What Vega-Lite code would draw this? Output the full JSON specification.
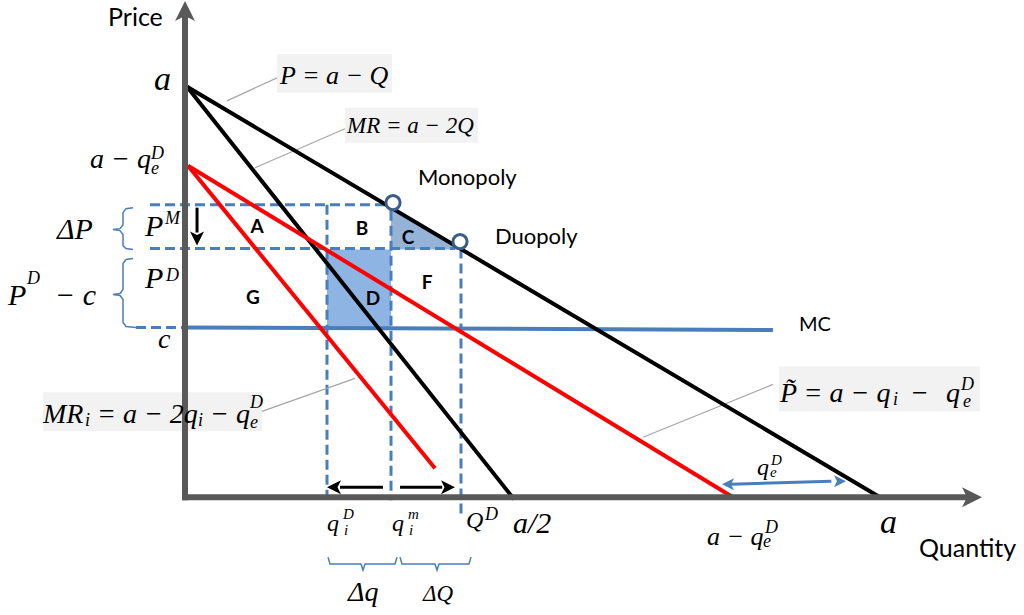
{
  "$schema": "https://vega.github.io/schema/vega-lite/v6.json",
  "width": 1024,
  "height": 615,
  "autosize": {"type": "fit", "contains": "padding"},
  "padding": 0,
  "background": "white",
  "config": {"view": {"stroke": null}},
  "datasets": {
    "segs": [
      {"g": "axis", "x": 0, "y": -0.73, "x2": 0, "y2": 118.0},
      {"g": "axis", "x": -0.43, "y": 0, "x2": 112.66, "y2": 0},
      {"g": "black", "x": 0.29, "y": 100, "x2": 100, "y2": 0},
      {"g": "black", "x": 0.29, "y": 100, "x2": 47.34, "y2": -0.49},
      {"g": "red", "x": 0.43, "y": 80.78, "x2": 78.85, "y2": 0},
      {"g": "red", "x": 0.43, "y": 80.78, "x2": 35.97, "y2": 7.06},
      {"g": "mc", "x": 0, "y": 41.36, "x2": 84.6, "y2": 40.75},
      {"g": "dash", "x": -7.05, "y": 41.36, "x2": 0, "y2": 41.36},
      {"g": "dash", "x": -5.04, "y": 71.29, "x2": 29.21, "y2": 71.29},
      {"g": "dash", "x": -5.04, "y": 60.58, "x2": 38.85, "y2": 60.58},
      {"g": "dash", "x": 20.43, "y": 71.29, "x2": 20.43, "y2": -0.73},
      {"g": "dash", "x": 29.64, "y": 69.83, "x2": 29.64, "y2": -0.73},
      {"g": "dash", "x": 39.71, "y": 60.58, "x2": 39.71, "y2": -5.11},
      {"g": "leader", "x": 6.04, "y": 96.59, "x2": 13.24, "y2": 102.19},
      {"g": "leader", "x": 10.07, "y": 80.29, "x2": 23.02, "y2": 89.78},
      {"g": "leader", "x": 11.08, "y": 20.92, "x2": 24.46, "y2": 28.95},
      {"g": "leader", "x": 65.9, "y": 14.6, "x2": 84.6, "y2": 27.49},
      {"g": "arrow", "x": 1.73, "y": 70.56, "x2": 1.73, "y2": 64.5},
      {"g": "arrow", "x": 28.49, "y": 2.43, "x2": 22.3, "y2": 2.43},
      {"g": "arrow", "x": 30.94, "y": 2.43, "x2": 37.0, "y2": 2.43},
      {"g": "barrow", "x": 78.5, "y": 3.16, "x2": 93.0, "y2": 3.89}
    ],
    "heads": [
      {"g": "axis", "dir": "up", "x": 0, "y": 118.49},
      {"g": "axis", "dir": "right", "x": 113.24, "y": 0},
      {"g": "arrow", "dir": "down", "x": 1.73, "y": 63.02},
      {"g": "arrow", "dir": "left", "x": 21.44, "y": 2.43},
      {"g": "arrow", "dir": "right", "x": 37.84, "y": 2.43},
      {"g": "barrow", "dir": "left", "x": 78.13, "y": 3.16},
      {"g": "barrow", "dir": "right", "x": 94.24, "y": 3.89}
    ],
    "boxes": [
      {"x": 13.24, "x2": 29.78, "y": 108.03, "y2": 98.54},
      {"x": 23.02, "x2": 42.16, "y": 94.89, "y2": 86.37},
      {"x": -20.43, "x2": 11.08, "y": 25.55, "y2": 16.06},
      {"x": 85.47, "x2": 114.39, "y": 31.87, "y2": 20.92}
    ],
    "braces": [
      {"id": "dp", "o": 1, "x": -7.48, "y": 70.56},
      {"id": "dp", "o": 2, "x": -8.49, "y": 70.32},
      {"id": "dp", "o": 3, "x": -8.92, "y": 69.34},
      {"id": "dp", "o": 4, "x": -8.92, "y": 66.42},
      {"id": "dp", "o": 5, "x": -9.35, "y": 65.45},
      {"id": "dp", "o": 6, "x": -10.36, "y": 65.21},
      {"id": "dp", "o": 7, "x": -9.35, "y": 64.96},
      {"id": "dp", "o": 8, "x": -8.92, "y": 63.99},
      {"id": "dp", "o": 9, "x": -8.92, "y": 61.31},
      {"id": "dp", "o": 10, "x": -8.49, "y": 60.58},
      {"id": "dp", "o": 11, "x": -7.48, "y": 60.34},
      {"id": "pc", "o": 1, "x": -7.48, "y": 58.15},
      {"id": "pc", "o": 2, "x": -8.49, "y": 57.91},
      {"id": "pc", "o": 3, "x": -8.92, "y": 56.93},
      {"id": "pc", "o": 4, "x": -8.92, "y": 50.61},
      {"id": "pc", "o": 5, "x": -9.35, "y": 49.64},
      {"id": "pc", "o": 6, "x": -10.36, "y": 49.39},
      {"id": "pc", "o": 7, "x": -9.35, "y": 49.15},
      {"id": "pc", "o": 8, "x": -8.92, "y": 48.18},
      {"id": "pc", "o": 9, "x": -8.92, "y": 42.58},
      {"id": "pc", "o": 10, "x": -8.49, "y": 41.61},
      {"id": "pc", "o": 11, "x": -7.05, "y": 41.36},
      {"id": "dq", "o": 1, "x": 20.58, "y": -14.6},
      {"id": "dq", "o": 2, "x": 20.86, "y": -16.3},
      {"id": "dq", "o": 3, "x": 25.32, "y": -16.3},
      {"id": "dq", "o": 4, "x": 25.61, "y": -17.76},
      {"id": "dq", "o": 5, "x": 25.9, "y": -16.3},
      {"id": "dq", "o": 6, "x": 30.22, "y": -16.3},
      {"id": "dq", "o": 7, "x": 30.5, "y": -14.6},
      {"id": "dQ", "o": 1, "x": 30.94, "y": -14.6},
      {"id": "dQ", "o": 2, "x": 31.22, "y": -16.3},
      {"id": "dQ", "o": 3, "x": 35.97, "y": -16.3},
      {"id": "dQ", "o": 4, "x": 36.26, "y": -17.76},
      {"id": "dQ", "o": 5, "x": 36.55, "y": -16.3},
      {"id": "dQ", "o": 6, "x": 40.86, "y": -16.3},
      {"id": "dQ", "o": 7, "x": 41.15, "y": -14.6}
    ],
    "shadeRect": [
      {"x": 20.43, "x2": 29.64, "y": 41.36, "y2": 60.34}
    ],
    "shadeTri": [
      {"x": 29.64, "y": 71.05, "y2": 60.34},
      {"x": 39.28, "y": 60.83, "y2": 60.34}
    ],
    "points": [
      {"name": "Monopoly", "x": 29.93, "y": 71.78},
      {"name": "Duopoly", "x": 39.57, "y": 62.29}
    ],
    "math": [
      {"x": -4.46, "y": 99.27, "t": "a", "k": "end"},
      {"x": 100, "y": -8.76, "t": "a", "k": "end"},
      {"x": -13.67, "y": 80.29, "t": "a − q", "k": "lab"},
      {"x": -4.9, "y": 82.48, "t": "D", "k": "sup"},
      {"x": -4.9, "y": 78.83, "t": "e", "k": "sup"},
      {"x": -18.42, "y": 63.02, "t": "ΔP", "k": "big"},
      {"x": -5.76, "y": 63.75, "t": "P", "k": "big"},
      {"x": -2.88, "y": 66.67, "t": "M", "k": "sup"},
      {"x": -5.76, "y": 51.09, "t": "P", "k": "big"},
      {"x": -2.73, "y": 52.8, "t": "D", "k": "sup"},
      {"x": -25.47, "y": 46.72, "t": "P", "k": "big"},
      {"x": -22.73, "y": 52.07, "t": "D", "k": "sup"},
      {"x": -18.71, "y": 46.72, "t": "− c", "k": "big"},
      {"x": -3.88, "y": 36.25, "t": "c", "k": "lab"},
      {"x": 20.43, "y": -8.27, "t": "q", "k": "qty"},
      {"x": 22.73, "y": -5.35, "t": "D", "k": "idx"},
      {"x": 22.88, "y": -9.25, "t": "i", "k": "idx"},
      {"x": 29.78, "y": -8.27, "t": "q", "k": "qty"},
      {"x": 32.09, "y": -5.35, "t": "m", "k": "idx"},
      {"x": 32.23, "y": -9.25, "t": "i", "k": "idx"},
      {"x": 40.43, "y": -7.54, "t": "Q", "k": "qty"},
      {"x": 43.17, "y": -5.6, "t": "D", "k": "sup"},
      {"x": 47.19, "y": -8.76, "t": "a/2", "k": "big"},
      {"x": 23.45, "y": -25.3, "t": "Δq", "k": "lab"},
      {"x": 34.24, "y": -25.3, "t": "ΔQ", "k": "eq2"},
      {"x": 75.11, "y": -11.68, "t": "a − q", "k": "eq"},
      {"x": 83.45, "y": -8.76, "t": "D", "k": "sup"},
      {"x": 83.17, "y": -12.17, "t": "e", "k": "sup"},
      {"x": 82.3, "y": 5.35, "t": "q", "k": "qty"},
      {"x": 84.32, "y": 7.79, "t": "D", "k": "idx"},
      {"x": 84.17, "y": 4.87, "t": "e", "k": "idx"},
      {"x": 85.61, "y": 23.11, "t": "P̃ = a − q", "k": "lab"},
      {"x": 101.87, "y": 22.4, "t": "i", "k": "sup"},
      {"x": 104.32, "y": 23.11, "t": "−", "k": "lab"},
      {"x": 109.5, "y": 23.11, "t": "q", "k": "lab"},
      {"x": 111.94, "y": 21.9, "t": "e", "k": "sup"},
      {"x": 111.65, "y": 26.03, "t": "D", "k": "sup"},
      {"x": 13.67, "y": 100.73, "t": "P = a − Q", "k": "eq"},
      {"x": 23.31, "y": 88.81, "t": "MR = a − 2Q", "k": "eq2"},
      {"x": -20.43, "y": 18.0, "t": "MR", "k": "lab"},
      {"x": -14.39, "y": 17.27, "t": "i", "k": "sup"},
      {"x": -12.66, "y": 18.0, "t": "= a − 2q", "k": "lab"},
      {"x": 1.87, "y": 17.27, "t": "i", "k": "sup"},
      {"x": 3.6, "y": 18.0, "t": "− q", "k": "lab"},
      {"x": 9.35, "y": 16.79, "t": "e", "k": "sup"},
      {"x": 9.35, "y": 21.65, "t": "D", "k": "sup"}
    ],
    "words": [
      {"x": -11.08, "y": 114.84, "t": "Price", "k": "ax"},
      {"x": 105.61, "y": -14.6, "t": "Quantity", "k": "ax"},
      {"x": 33.53, "y": 76.16, "t": "Monopoly", "k": "lab"},
      {"x": 44.6, "y": 61.8, "t": "Duopoly", "k": "lab"},
      {"x": 88.35, "y": 40.39, "t": "MC", "k": "mc"}
    ],
    "areas": [
      {"x": 10.36, "y": 65.94, "t": "A"},
      {"x": 25.47, "y": 65.45, "t": "B"},
      {"x": 32.09, "y": 63.26, "t": "C"},
      {"x": 27.05, "y": 48.42, "t": "D"},
      {"x": 34.82, "y": 52.31, "t": "F"},
      {"x": 9.78, "y": 48.66, "t": "G"}
    ]
  },
  "encoding": {
    "x": {"field": "x", "type": "quantitative", "scale": {"domain": [-26.62, 120.72], "nice": false, "zero": false}, "axis": null},
    "y": {"field": "y", "type": "quantitative", "scale": {"domain": [-28.71, 120.92], "nice": false, "zero": false}, "axis": null}
  },
  "layer": [
    {
      "data": {"name": "boxes"},
      "mark": {"type": "rect", "color": "#F2F2F2"},
      "encoding": {"x2": {"field": "x2"}, "y2": {"field": "y2"}}
    },
    {
      "data": {"name": "shadeRect"},
      "mark": {"type": "rect", "color": "#8DB4E2"},
      "encoding": {"x2": {"field": "x2"}, "y2": {"field": "y2"}}
    },
    {
      "data": {"name": "shadeTri"},
      "mark": {"type": "area", "color": "#95B3D7", "opacity": 1},
      "encoding": {"y2": {"field": "y2"}}
    },
    {
      "data": {"name": "segs"},
      "transform": [{"filter": "datum.g === 'dash'"}],
      "mark": {"type": "rule", "color": "#4A7EBB", "strokeWidth": 3, "strokeDash": [10, 5]},
      "encoding": {"x2": {"field": "x2"}, "y2": {"field": "y2"}}
    },
    {
      "data": {"name": "segs"},
      "transform": [{"filter": "datum.g === 'mc'"}],
      "mark": {"type": "rule", "color": "#4A7EBB", "strokeWidth": 4},
      "encoding": {"x2": {"field": "x2"}, "y2": {"field": "y2"}}
    },
    {
      "data": {"name": "segs"},
      "transform": [{"filter": "datum.g === 'leader'"}],
      "mark": {"type": "rule", "color": "#A6A6A6", "strokeWidth": 1.2},
      "encoding": {"x2": {"field": "x2"}, "y2": {"field": "y2"}}
    },
    {
      "data": {"name": "braces"},
      "mark": {"type": "line", "color": "#4A7EBB", "strokeWidth": 1.5},
      "encoding": {"detail": {"field": "id"}, "order": {"field": "o", "type": "quantitative"}}
    },
    {
      "data": {"name": "segs"},
      "transform": [{"filter": "datum.g === 'black'"}],
      "mark": {"type": "rule", "color": "black", "strokeWidth": 4},
      "encoding": {"x2": {"field": "x2"}, "y2": {"field": "y2"}}
    },
    {
      "data": {"name": "segs"},
      "transform": [{"filter": "datum.g === 'red'"}],
      "mark": {"type": "rule", "color": "#FF0000", "strokeWidth": 4},
      "encoding": {"x2": {"field": "x2"}, "y2": {"field": "y2"}}
    },
    {
      "data": {"name": "segs"},
      "transform": [{"filter": "datum.g === 'axis'"}],
      "mark": {"type": "rule", "color": "#595959", "strokeWidth": 6},
      "encoding": {"x2": {"field": "x2"}, "y2": {"field": "y2"}}
    },
    {
      "data": {"name": "segs"},
      "transform": [{"filter": "datum.g === 'arrow'"}],
      "mark": {"type": "rule", "color": "black", "strokeWidth": 3},
      "encoding": {"x2": {"field": "x2"}, "y2": {"field": "y2"}}
    },
    {
      "data": {"name": "segs"},
      "transform": [{"filter": "datum.g === 'barrow'"}],
      "mark": {"type": "rule", "color": "#4A7EBB", "strokeWidth": 3},
      "encoding": {"x2": {"field": "x2"}, "y2": {"field": "y2"}}
    },
    {
      "data": {"name": "heads"},
      "transform": [{"filter": "datum.g === 'axis'"}],
      "mark": {"type": "point", "filled": true, "color": "#595959", "size": 400, "opacity": 1, "strokeWidth": 0},
      "encoding": {"shape": {"field": "dir", "type": "nominal", "legend": null, "scale": {"domain": ["up", "down", "left", "right"], "range": ["M0,-1L1,1L0,0.5L-1,1Z", "M0,1L1,-1L0,-0.5L-1,-1Z", "M-1,0L1,-1L0.5,0L1,1Z", "M1,0L-1,-1L-0.5,0L-1,1Z"]}}}
    },
    {
      "data": {"name": "heads"},
      "transform": [{"filter": "datum.g === 'arrow'"}],
      "mark": {"type": "point", "filled": true, "color": "black", "size": 196, "opacity": 1, "strokeWidth": 0},
      "encoding": {"shape": {"field": "dir", "type": "nominal", "legend": null, "scale": {"domain": ["up", "down", "left", "right"], "range": ["M0,-1L1,1L0,0.5L-1,1Z", "M0,1L1,-1L0,-0.5L-1,-1Z", "M-1,0L1,-1L0.5,0L1,1Z", "M1,0L-1,-1L-0.5,0L-1,1Z"]}}}
    },
    {
      "data": {"name": "heads"},
      "transform": [{"filter": "datum.g === 'barrow'"}],
      "mark": {"type": "point", "filled": true, "color": "#4A7EBB", "size": 144, "opacity": 1, "strokeWidth": 0},
      "encoding": {"shape": {"field": "dir", "type": "nominal", "legend": null, "scale": {"domain": ["up", "down", "left", "right"], "range": ["M0,-1L1,1L0,0.5L-1,1Z", "M0,1L1,-1L0,-0.5L-1,-1Z", "M-1,0L1,-1L0.5,0L1,1Z", "M1,0L-1,-1L-0.5,0L-1,1Z"]}}}
    },
    {
      "data": {"name": "points"},
      "mark": {"type": "point", "shape": "circle", "filled": true, "fill": "white", "stroke": "#385D8A", "strokeWidth": 3, "size": 200, "opacity": 1}
    },
    {
      "data": {"name": "math"},
      "transform": [{"filter": "datum.k === 'end'"}],
      "mark": {"type": "text", "font": "Liberation Serif", "fontStyle": "italic", "fontSize": 34, "align": "left", "baseline": "alphabetic", "color": "black"},
      "encoding": {"text": {"field": "t"}}
    },
    {
      "data": {"name": "math"},
      "transform": [{"filter": "datum.k === 'big'"}],
      "mark": {"type": "text", "font": "Liberation Serif", "fontStyle": "italic", "fontSize": 30, "align": "left", "baseline": "alphabetic", "color": "black"},
      "encoding": {"text": {"field": "t"}}
    },
    {
      "data": {"name": "math"},
      "transform": [{"filter": "datum.k === 'lab'"}],
      "mark": {"type": "text", "font": "Liberation Serif", "fontStyle": "italic", "fontSize": 28, "align": "left", "baseline": "alphabetic", "color": "black"},
      "encoding": {"text": {"field": "t"}}
    },
    {
      "data": {"name": "math"},
      "transform": [{"filter": "datum.k === 'eq'"}],
      "mark": {"type": "text", "font": "Liberation Serif", "fontStyle": "italic", "fontSize": 26, "align": "left", "baseline": "alphabetic", "color": "black"},
      "encoding": {"text": {"field": "t"}}
    },
    {
      "data": {"name": "math"},
      "transform": [{"filter": "datum.k === 'qty'"}],
      "mark": {"type": "text", "font": "Liberation Serif", "fontStyle": "italic", "fontSize": 24, "align": "left", "baseline": "alphabetic", "color": "black"},
      "encoding": {"text": {"field": "t"}}
    },
    {
      "data": {"name": "math"},
      "transform": [{"filter": "datum.k === 'eq2'"}],
      "mark": {"type": "text", "font": "Liberation Serif", "fontStyle": "italic", "fontSize": 23, "align": "left", "baseline": "alphabetic", "color": "black"},
      "encoding": {"text": {"field": "t"}}
    },
    {
      "data": {"name": "math"},
      "transform": [{"filter": "datum.k === 'sup'"}],
      "mark": {"type": "text", "font": "Liberation Serif", "fontStyle": "italic", "fontSize": 18, "align": "left", "baseline": "alphabetic", "color": "black"},
      "encoding": {"text": {"field": "t"}}
    },
    {
      "data": {"name": "math"},
      "transform": [{"filter": "datum.k === 'idx'"}],
      "mark": {"type": "text", "font": "Liberation Serif", "fontStyle": "italic", "fontSize": 15, "align": "left", "baseline": "alphabetic", "color": "black"},
      "encoding": {"text": {"field": "t"}}
    },
    {
      "data": {"name": "words"},
      "transform": [{"filter": "datum.k === 'ax'"}],
      "mark": {"type": "text", "font": "Lato", "fontSize": 25, "align": "left", "baseline": "alphabetic", "color": "black"},
      "encoding": {"text": {"field": "t"}}
    },
    {
      "data": {"name": "words"},
      "transform": [{"filter": "datum.k === 'lab'"}],
      "mark": {"type": "text", "font": "Lato", "fontSize": 22, "align": "left", "baseline": "alphabetic", "color": "black"},
      "encoding": {"text": {"field": "t"}}
    },
    {
      "data": {"name": "words"},
      "transform": [{"filter": "datum.k === 'mc'"}],
      "mark": {"type": "text", "font": "Lato", "fontSize": 20, "align": "left", "baseline": "alphabetic", "color": "black"},
      "encoding": {"text": {"field": "t"}}
    },
    {
      "data": {"name": "areas"},
      "mark": {"type": "text", "font": "Lato", "fontWeight": "bold", "fontSize": 19, "align": "center", "baseline": "middle", "color": "black"},
      "encoding": {"text": {"field": "t"}}
    }
  ]
}
